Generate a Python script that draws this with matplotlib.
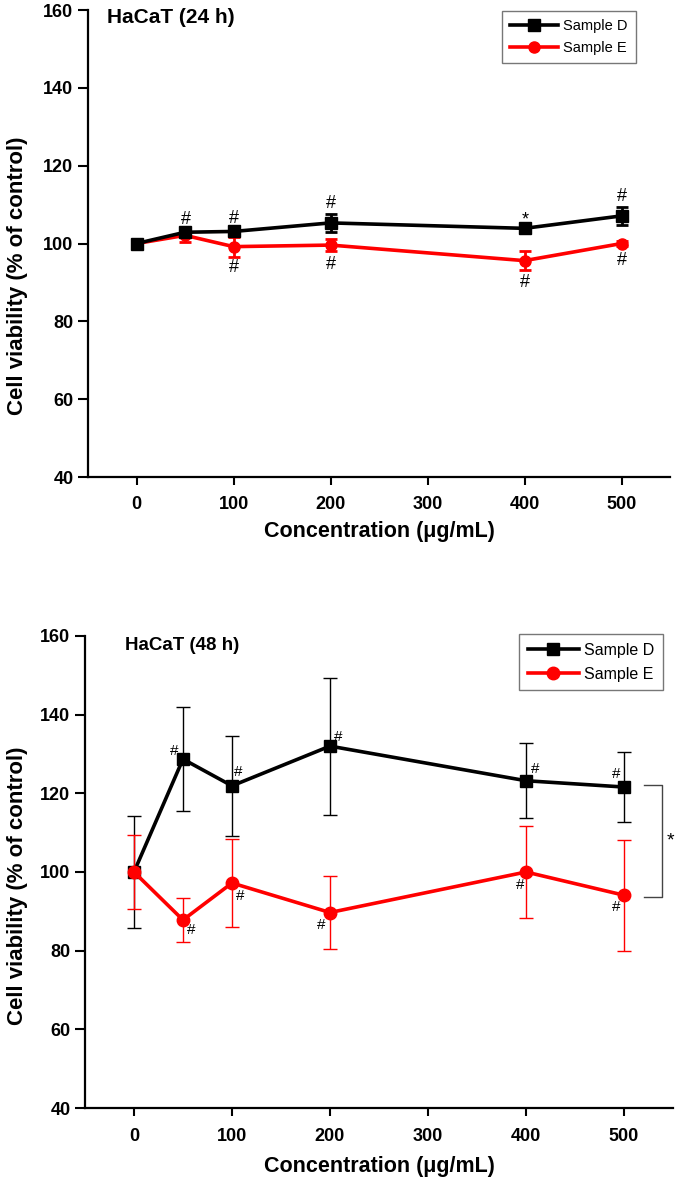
import matplotlib
matplotlib.use('Agg')
import matplotlib.pyplot as plt

plt.rcParams['font.family'] = ['Liberation Sans', 'DejaVu Sans']

conc = [0, 50, 100, 200, 400, 500]

# 24 h
d24 = [100.0, 102.9, 103.1, 105.3, 103.9, 107.1]
d24_err = [0.8, 1.0, 0.8, 2.3, 0.9, 2.4]
e24 = [100.0, 102.1, 99.2, 99.6, 95.6, 100.0]
e24_err = [0.8, 1.8, 2.6, 1.5, 2.5, 0.6]

# 48 h
d48 = [100.0, 128.7, 121.9, 132.0, 123.2, 121.6]
d48_err = [14.3, 13.2, 12.7, 17.4, 9.5, 8.9]
e48 = [100.0, 87.8, 97.2, 89.7, 100.0, 94.1]
e48_err = [9.5, 5.5, 11.3, 9.4, 11.7, 14.1]

# significance marks (x, y, text)
marks24 = [(51, 106.1, '#'), (100, 106.5, '#'), (200, 110.2, '#'), (401, 106.0, '*'),
           (500, 112.0, '#'), (100, 93.9, '#'), (200, 94.6, '#'), (400, 90.1, '#'),
           (500, 95.6, '#')]
marks48 = [(41, 130.7, '#'), (106, 125.3, '#'), (208, 134.4, '#'), (409, 126.1, '#'),
           (492, 125.0, '#'), (58, 85.3, '#'), (108, 93.9, '#'), (191, 86.6, '#'),
           (394, 96.6, '#'), (492, 91.1, '#')]

fig = plt.figure(figsize=(6.75, 11.81), dpi=100)
ax1 = fig.add_axes([0.1304, 0.5961, 0.8622, 0.3954])
ax2 = fig.add_axes([0.1259, 0.0618, 0.8711, 0.3997])


def style(ax, title, tfs, ylpos, xly, xpad):
    ax.set_xlim(-50, 550)
    ax.set_ylim(40, 160)
    ax.set_xticks([0, 100, 200, 300, 400, 500])
    ax.set_yticks([40, 60, 80, 100, 120, 140, 160])
    for s in ['top', 'right']:
        ax.spines[s].set_visible(False)
    for s in ['left', 'bottom']:
        ax.spines[s].set_linewidth(1.6)
    ax.tick_params(direction='out', width=1.5, labelsize=13)
    ax.tick_params(axis='x', length=6, pad=xpad)
    ax.tick_params(axis='y', length=7, pad=3.5)
    for lab in ax.get_xticklabels() + ax.get_yticklabels():
        lab.set_fontweight('bold')
    ax.set_xlabel('Concentration (\u03bcg/mL)', fontsize=15.5, fontweight='bold')
    ax.set_ylabel('Cell viability (% of control)', fontsize=16, fontweight='bold')
    ax.yaxis.set_label_coords(*ylpos)
    ax.xaxis.set_label_coords(0.5, xly)
    ax.text(title[0], title[1], title[2], fontsize=tfs, fontweight='bold',
            ha='left', va='center')


# top panel
ax1.errorbar(conc, d24, yerr=d24_err, color='black', marker='s', markersize=8,
             lw=2.6, elinewidth=2, capsize=4, capthick=2, label='Sample D', zorder=3)
ax1.errorbar(conc, e24, yerr=e24_err, color='red', marker='o', markersize=8,
             lw=2.6, elinewidth=2, capsize=4, capthick=2, label='Sample E', zorder=2)
for x, y, t in marks24:
    ax1.text(x, y, t, fontsize=13, ha='center', va='center')
style(ax1, (-30, 158, 'HaCaT (24 h)'), 15, (-0.103, 0.43), -0.094, 7.5)
h, l = ax1.get_legend_handles_labels()
h = [hh[0] for hh in h]
ax1.legend(h, l, loc='upper left', bbox_to_anchor=(0.711, 0.998), fontsize=10.5,
           frameon=True, fancybox=False, edgecolor='#555555', handlelength=3.3,
           borderpad=0.55, labelspacing=0.55, handletextpad=0.35, borderaxespad=0)

# bottom panel
ax2.errorbar(conc, d48, yerr=d48_err, color='black', marker='s', markersize=8,
             lw=2.6, elinewidth=1, capsize=5, capthick=1, label='Sample D', zorder=2)
ax2.errorbar(conc, e48, yerr=e48_err, color='red', marker='o', markersize=9,
             lw=2.6, elinewidth=1, capsize=5, capthick=1, label='Sample E', zorder=3)
for x, y, t in marks48:
    ax2.text(x, y, t, fontsize=11, ha='center', va='center')
style(ax2, (-9, 157.6, 'HaCaT (48 h)'), 13.5, (-0.097, 0.47), -0.102, 8.5)
h, l = ax2.get_legend_handles_labels()
h = [hh[0] for hh in h]
ax2.legend(h, l, loc='upper left', bbox_to_anchor=(0.738, 1.004), fontsize=11.5,
           frameon=True, fancybox=False, edgecolor='#555555', handlelength=3.2,
           borderpad=0.55, labelspacing=0.55, handletextpad=0.35, borderaxespad=0)

# bracket between groups at 500
bx0, bx1 = 520, 539
ax2.plot([bx0, bx1, bx1, bx0], [122.2, 122.2, 93.6, 93.6], color='#444444', lw=1,
         clip_on=False)
ax2.text(547, 108, '*', fontsize=14, ha='center', va='center', clip_on=False)

fig.savefig('out.png', dpi=100)
